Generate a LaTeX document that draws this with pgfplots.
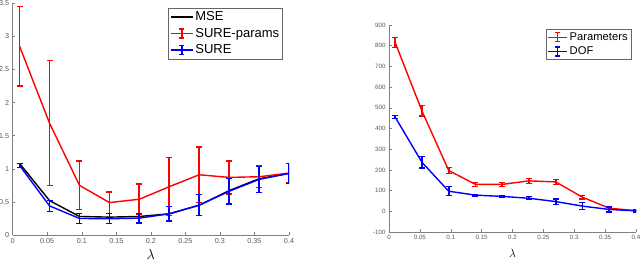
\documentclass[border=0pt]{standalone}
\usepackage{pgfplots}
\pgfplotsset{compat=1.18}
\usepackage{fontspec}
\setmainfont{Liberation Sans}
\definecolor{mred}{rgb}{1,0,0}
\definecolor{mblue}{rgb}{0,0,1}
\pgfplotsset{
  mystyle/.style={
    scale only axis,
    axis x line=bottom, axis y line=left,
    axis line style={-, gray, line width=0.5pt},
    tick align=inside,
    major tick length=2.5pt,
    tick style={gray, line width=0.5pt},
    ticklabel style={text=black!65},
    /pgf/number format/assume math mode=true,
    scaled ticks=false,
    xmin=0, xmax=0.4,
    xtick={0,0.05,0.1,0.15,0.2,0.25,0.3,0.35,0.4},
    xticklabels={0,0.05,0.1,0.15,0.2,0.25,0.3,0.35,0.4},
    xlabel={$\lambda$},
    legend cell align=left,
  },
  lsty/.style={line width=1.4pt, no markers},
  ebsty/.style={error bars/.cd, y dir=both, y explicit,
    error bar style={line width=1.7pt, draw=#1},
    error mark options={rotate=90, mark size=3pt, line width=1.3pt, draw=#1}},
  leb/.style 2 args={legend image code/.code={%
    \draw[draw=#1,line width=1.3pt] (0pt,0pt) -- (#2,0pt)
      (0.5*#2-2.5pt,-4.5pt) -- (0.5*#2+2.5pt,-4.5pt)
      (0.5*#2-2.5pt,4.5pt) -- (0.5*#2+2.5pt,4.5pt);
    \draw[draw=#1,line width=1.7pt] (0.5*#2,-4.5pt) -- (0.5*#2,4.5pt);}},
}
\begin{document}
\begin{tikzpicture}[x=1pt,y=1pt]
\useasboundingbox (0,0) rectangle (640,262);
% ---------------- left axis
\begin{axis}[mystyle,
  at={(12.7pt,27pt)}, anchor=south west, width=276.3pt, height=231.7pt,
  ymin=0, ymax=3.5,
  ytick={0,0.5,1,1.5,2,2.5,3,3.5},
  yticklabels={0,0.5,1,1.5,2,2.5,3,3.5},
  ticklabel style={font=\fontsize{7.2}{8}\selectfont},
  xlabel style={font=\fontsize{14}{14}\selectfont, at={(axis description cs:0.5,0)}, anchor=center, yshift=-20pt},
  legend style={at={(rel axis cs:0.978,0.98)}, anchor=north east,
    draw=black!60, line width=0.5pt, font=\fontsize{13}{14}\selectfont,
    inner sep=1.5pt, row sep=2pt},
]
\addplot[black, lsty, legend image code/.code={\draw[draw=black,line width=1.4pt] (0pt,0pt) -- (22pt,0pt);}] table {
x y
0.01 1.08
0.0533 0.52
0.0967 0.28
0.14 0.27
0.1833 0.28
0.2267 0.32
0.27 0.45
0.3133 0.67
0.3567 0.85
0.4 0.93
};
\addlegendentry{MSE}
\addplot[mred, lsty, leb={mred}{22pt}, ebsty=mred] table[y error=e] {
x y e
0.01 2.85 0.60
0.0533 1.69 0.945
0.0967 0.75 0.37
0.14 0.49 0.16
0.1833 0.54 0.23
0.2267 0.73 0.44
0.27 0.91 0.42
0.3133 0.87 0.25
0.3567 0.88 0.165
0.4 0.935 0.145
};
\addlegendentry{SURE-params}
\addplot[mblue, lsty, leb={mblue}{22pt}, ebsty=mblue] table[y error=e] {
x y e
0.01 1.05 0.03
0.0533 0.44 0.08
0.0967 0.25 0.08
0.14 0.245 0.075
0.1833 0.255 0.075
0.2267 0.32 0.11
0.27 0.45 0.16
0.3133 0.66 0.19
0.3567 0.84 0.20
0.4 0.93 0.155
};
\addlegendentry{SURE}
\end{axis}
% ---------------- right axis
\begin{axis}[mystyle,
  at={(389pt,30pt)}, anchor=south west, width=247pt, height=207pt,
  ymin=-100, ymax=900,
  ytick={-100,0,100,200,300,400,500,600,700,800,900},
  yticklabels={-100,0,100,200,300,400,500,600,700,800,900},
  ticklabel style={font=\fontsize{6.2}{7}\selectfont},
  xlabel style={font=\fontsize{12.5}{13}\selectfont, at={(axis description cs:0.5,0)}, anchor=center, yshift=-21pt},
  legend style={at={(rel axis cs:0.98,0.98)}, anchor=north east,
    draw=black!60, line width=0.5pt, font=\fontsize{11.2}{12}\selectfont,
    inner sep=1.2pt, row sep=1pt},
]
\addplot[mred, lsty, leb={mred}{19pt}, ebsty=mred] table[y error=e] {
x y e
0.01 815 25
0.0533 485 25
0.0967 197 15
0.14 130 10
0.1833 130 10
0.2267 147 12
0.27 142 12
0.3133 68 8
0.3567 15 7
0.4 3 3
};
\addlegendentry{Parameters}
\addplot[mblue, lsty, leb={mblue}{19pt}, ebsty=mblue] table[y error=e] {
x y e
0.01 455 8
0.0533 237 28
0.0967 97 22
0.14 78 4
0.1833 72 3
0.2267 63 7
0.27 47 13
0.3133 25 17
0.3567 9 12
0.4 2 5
};
\addlegendentry{DOF}
\end{axis}
\end{tikzpicture}
\end{document}
